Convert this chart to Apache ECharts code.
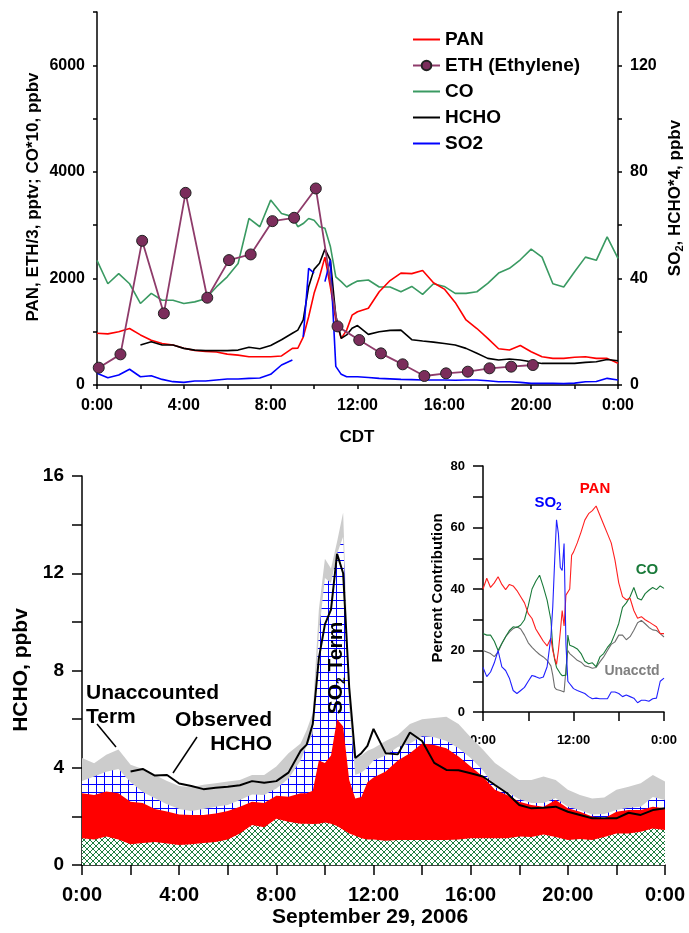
<!DOCTYPE html>
<html><head><meta charset="utf-8">
<script src="https://cdn.jsdelivr.net/npm/echarts@6/dist/echarts.min.js"></script>
<style>html,body{margin:0;padding:0;background:#fff}#c{width:689px;height:933px}</style>
</head><body><div id="c"></div>
<script>
// time grid (hours, CDT)
const hours = [0,0.5,1,1.5,2,2.5,3,3.5,4,4.5,5,5.5,6,6.5,7,7.5,8,8.5,9,
  9.25,9.5,9.75,10,10.25,10.5,10.75,11,11.25,11.5,11.75,12,
  12.5,13,13.5,14,14.5,15,15.5,16,16.5,17,17.5,18,18.5,19,19.5,20,20.5,21,21.5,22,22.5,23,23.5,24];

// ---- top panel (left axis: pptv / CO*10 ppbv ; right axis: ppbv) ----
const panTop = [970,960,1000,1060,940,840,780,750,690,650,630,620,580,560,530,530,530,545,688,
  690,900,1280,1720,2030,2400,1840,1220,875,1030,1310,1375,
  1440,1750,1960,2100,2090,2150,1920,1800,1550,1220,1060,875,680,656,740,625,530,500,500,520,530,500,500,410];
const coTop = [2340,1900,2090,1900,1530,1720,1590,1590,1530,1560,1620,1840,2030,2280,3125,2970,3470,3220,3160,
  2970,3030,3125,3090,2970,2940,2600,2030,1940,1840,1900,1950,
  1970,1840,1840,1750,1850,1700,1900,1850,1720,1720,1750,1906,2100,2190,2350,2550,2400,1900,1840,2125,2400,2340,2780,2375];
const hcho4Top = [null,null,null,null,15,16.2,15,15,13.75,13.1,12.9,12.9,12.9,13.1,14.2,13.6,14.8,17,19.4,
  20.6,24.4,36.9,43.4,45.7,51,46.9,26,17.5,18.8,21.3,22.3,
  19,20,20.5,20.6,17,16.5,16.1,15.6,15,13.75,11.9,10,9.4,9.75,9.4,8.75,8.1,8.1,8.1,8.1,8.5,8.75,9.6,9.1];
const so2Top = [4.4,2.75,3.75,5.9,3.1,3.5,2.1,1.25,1.0,1.5,1.5,1.9,2.25,2.25,2.5,2.6,4,7.5,9.4,
  null,18,43.8,42,null,38.8,46.9,7,4,3.1,3.1,3.1,
  2.8,2.5,2.3,2.1,2.0,1.9,1.9,1.9,1.8,1.9,1.9,1.6,1.2,1.2,1.0,0.6,0.6,0.6,0.5,0.7,1.2,1.3,2.5,1.9];
const ethHours = [0.08,1.08,2.08,3.08,4.08,5.08,6.08,7.08,8.08,9.08,10.08,11.08,12.08,13.08,14.08,15.08,16.08,17.08,18.08,19.08,20.08];
const ethTop = [325,575,2706,1344,3606,1638,2344,2450,3075,3138,3688,1100,844,594,388,169,219,250,313,344,375];

// ---- bottom panel: HCHO source terms (ppbv) ----
const coTerm = [1.1,1.05,1.17,1.05,0.85,0.9,0.95,0.88,0.82,0.85,0.9,0.95,1.05,1.3,1.65,1.55,1.9,1.78,1.7,
  1.7,1.69,1.7,1.75,1.7,1.6,1.45,1.3,1.2,1.1,1.05,1.05,
  1.0,1.03,1.03,1.03,1.03,1.03,1.05,1.1,1.1,1.1,1.1,1.17,1.15,1.25,1.15,1.03,1.07,1.03,1.15,1.3,1.3,1.37,1.5,1.44];
const panTerm = [1.85,1.83,1.85,1.9,1.75,1.65,1.35,1.32,1.26,1.21,1.16,1.17,1.17,1.1,0.95,1.0,0.95,1.03,1.25,
  1.25,1.36,2.6,2.45,2.8,4.4,4.25,2.2,1.54,1.7,2.35,2.55,
  2.85,3.27,3.57,3.97,3.91,3.77,3.41,2.95,2.54,1.99,1.78,1.43,1.32,1.15,1.52,1.3,1.12,0.96,0.77,0.89,0.96,0.89,0.9,0.89];
const so2Term = [0.5,0.76,0.82,1.0,0.8,0.45,0.45,0.3,0.22,0.16,0.24,0.28,0.25,0.27,0.3,0.33,0.3,0.74,1.35,
  1.95,2.35,5.2,7.6,7.1,6.8,7.8,3.0,0.96,1.0,0.6,0.7,
  0.65,0.55,0.4,0.3,0.31,0.3,0.34,0.35,0.26,0.11,0.12,0.1,0.08,0.15,0.08,0.07,0.06,0.09,0.18,0.07,0.09,0.14,0.4,0.34];
const unTerm = [0.95,0.54,0.69,0.8,0.72,0.95,0.95,0.95,0.95,0.98,1.0,0.96,0.96,0.83,0.8,0.82,0.9,1.05,0.7,
  0.65,0.85,1.0,0.8,0.6,0.5,1.0,0.5,0.7,0.7,0.7,0.5,
  0.6,0.5,0.8,0.7,0.8,1.0,1.0,0.85,0.85,1.0,0.85,0.8,0.95,1.09,0.75,0.69,0.63,0.66,0.68,0.83,0.87,0.96,0.9,0.76];
const hchoObs = [null,null,null,null,3.85,3.95,3.68,3.7,3.35,3.25,3.12,3.18,3.22,3.28,3.45,3.38,3.45,3.8,4.7,
  4.95,5.8,8.5,9.9,10.5,12.8,12.0,7.3,4.4,4.6,4.9,5.6,
  4.6,4.55,5.45,5.1,4.2,3.91,3.9,3.77,3.64,3.29,2.95,2.47,2.33,2.35,2.4,2.19,2.06,1.92,1.92,1.92,2.15,2.06,2.26,2.33];

// ---- inset: percent contribution ----
const panPct = [40,43.5,40.5,42,44,41.5,39.8,41.5,41,39.5,37.5,35.5,32,30.4,27,25,23,21.5,24,
  20,17.5,15.5,20,26,33,28,38,38.5,40,51,52,
  55,58.5,62.4,64.5,65.5,67,64,61,58,55,49.4,42,37.5,36.5,37,33,30.5,31,30,29.3,28.5,27.7,25.5,25.5];
const coPct = [25.5,25,25,23,20,22.3,24.5,26.5,27.7,27.5,28.3,30,34.5,40,42.5,44.5,40.7,36.4,30,
  21.2,17,14.5,13.5,12.5,11.8,11.2,12,25,21.7,21.5,21.2,
  20.5,19,16.5,15.7,16,14.7,17.9,19,21,22.5,25.5,28.8,34,35.5,37.5,40.5,37,36.4,38.5,39.6,40.5,39.8,41,40.2];
const unPct = [20,19.5,19,18,19.5,22.3,24.5,26,27.1,27.7,27,25,22.5,21,19.8,18.7,17.9,16.8,15,
  12,8,7.3,7,7,6.8,6.5,14,20,19,18.5,17.9,
  16.8,16.2,15,14.7,14.2,14.5,16.3,17.9,20,22,22.8,25,25,23.5,24.5,26.6,29,29.8,28.7,27.5,26.7,26.5,25.5,24.4];
const so2Pct = [14.5,11.5,13,16,20,14.7,13.5,11,7,6,7,8,10,11.9,11.5,11,11.4,14.7,24.4,
  34.2,49,62.5,58,47,46,54.8,22,10,9.2,8.4,7.6,
  7,6.5,6,5,4.3,4.5,4.3,4.3,4.3,6.5,6.5,6,5,5.5,5,4.5,3,3.8,3.8,3.5,4.3,4.5,10,11];

const F = '"Liberation Sans", Arial, Helvetica, sans-serif';

function pairs(xs, ys) { return xs.map((x, i) => [x, ys[i] == null ? '-' : ys[i]]); }
function cumul(...arrs) { return hours.map((h, i) => arrs.reduce((s, a) => s + a[i], 0)); }
function pattern(w, h, draw) {
  const c = document.createElement('canvas'); c.width = w; c.height = h;
  const g = c.getContext('2d'); g.fillStyle = '#fff'; g.fillRect(0, 0, w, h); draw(g);
  return { image: c, repeat: 'repeat' };
}
const gridPat = pattern(8, 8, g => { g.strokeStyle = '#0000ff'; g.lineWidth = 1; g.beginPath();
  g.moveTo(0, 0.5); g.lineTo(8, 0.5); g.moveTo(0.5, 0); g.lineTo(0.5, 8); g.stroke(); });
const hatchPat = pattern(6, 6, g => { g.strokeStyle = '#1f7d3f'; g.lineWidth = 1; g.beginPath();
  g.moveTo(-1, -1); g.lineTo(7, 7); g.moveTo(7, -1); g.lineTo(-1, 7); g.stroke(); });

const timeFmt = v => (v % 24) + ':00';
function xAxis(gi, interval, every, fs, margin, tick) {
  return { gridIndex: gi, type: 'value', min: 0, max: 24, interval: interval,
    axisLine: { onZero: false, lineStyle: { color: '#000', width: 1.5 } },
    axisTick: { length: tick, lineStyle: { color: '#000', width: 1.5 } },
    axisLabel: { formatter: v => v % every === 0 ? timeFmt(v) : '', color: '#000', fontSize: fs, fontWeight: 'bold', fontFamily: F, margin: margin },
    splitLine: { show: false } };
}
function yAxis(gi, max, interval, every, fs, margin, tick, pos) {
  return { gridIndex: gi, type: 'value', min: 0, max: max, interval: interval, position: pos || 'left',
    axisLine: { show: true, lineStyle: { color: '#000', width: 1.5 } },
    axisTick: { show: true, length: tick, lineStyle: { color: '#000', width: 1.5 } },
    axisLabel: { formatter: v => v % every === 0 ? String(v) : '', color: '#000', fontSize: fs, fontWeight: 'bold', fontFamily: F, margin: margin },
    splitLine: { show: false } };
}
function line(name, xi, yi, data, color, width, extra) {
  return Object.assign({ name: name, type: 'line', xAxisIndex: xi, yAxisIndex: yi, data: data, symbol: 'none',
    lineStyle: { color: color, width: width }, itemStyle: { color: color }, connectNulls: false, silent: true }, extra || {});
}
function area(name, data, fill, z) {
  return { name: name, type: 'line', xAxisIndex: 1, yAxisIndex: 2, data: data, symbol: 'none', silent: true, z: z,
    lineStyle: { width: 0, opacity: 0 }, areaStyle: { color: fill, opacity: 1 }, itemStyle: { color: '#ccc' } };
}

const topAll = cumul(coTerm, panTerm, so2Term, unTerm);
const topSO2 = cumul(coTerm, panTerm, so2Term);
const topPAN = cumul(coTerm, panTerm);
const topCO = cumul(coTerm);

const T = (text, x, y, size, opts) => ({ type: 'text', x: x, y: y, rotation: (opts && opts.rot) || 0,
  style: Object.assign({ text: text, font: 'bold ' + size + 'px ' + F, fill: (opts && opts.color) || '#000',
    align: (opts && opts.align) || 'center', verticalAlign: 'middle' }, (opts && opts.style) || {}) });
const sub = (size) => ({ s: { fontSize: size, fontWeight: 'bold', fontFamily: F, verticalAlign: 'bottom', lineHeight: size + 2 } });
const lineIcon = 'path://M0,0 L27,0 L27,2 L0,2 Z';

const option = {
  animation: false,
  backgroundColor: '#fff',
  grid: [
    { left: 97, top: 12, width: 521, height: 373 },
    { left: 82, top: 476, width: 583, height: 389 },
    { left: 483, top: 466, width: 181, height: 246 }
  ],
  xAxis: [ xAxis(0, 2, 4, 16, 13, 4), xAxis(1, 2, 4, 20, 20, 10), xAxis(2, 6, 12, 13, 22, 9) ],
  yAxis: [
    yAxis(0, 7000, 1000, 2000, 16, 12, 4),
    yAxis(0, 140, 20, 40, 16, 12, 4, 'right'),
    yAxis(1, 16, 2, 4, 19, 18, 10),
    yAxis(2, 80, 10, 20, 13, 18, 10)
  ],
  legend: { data: [
      { name: 'PAN', icon: lineIcon },
      { name: 'ETH (Ethylene)' },
      { name: 'CO', icon: lineIcon },
      { name: 'HCHO', icon: lineIcon },
      { name: 'SO2', icon: lineIcon } ],
    orient: 'vertical', left: 412, top: 30,
    itemWidth: 27, itemHeight: 12, itemGap: 7, padding: 0, selectedMode: false,
    textStyle: { fontSize: 19, fontWeight: 'bold', color: '#000', fontFamily: F } },
  series: [
    line('CO', 0, 0, pairs(hours, coTop), '#3a9a62', 1.6),
    line('PAN', 0, 0, pairs(hours, panTop), '#ff0000', 1.6),
    line('HCHO', 0, 1, pairs(hours, hcho4Top), '#000000', 1.6),
    line('SO2', 0, 1, pairs(hours, so2Top), '#0000ff', 1.6),
    line('ETH (Ethylene)', 0, 0, pairs(ethHours, ethTop), '#8e3b6a', 1.8,
      { symbol: 'circle', symbolSize: 11, itemStyle: { color: '#7b2d5b', borderColor: '#222', borderWidth: 1 } }),

    area('Unaccounted Term', pairs(hours, topAll), '#cccccc', 2),
    area('SO2 Term', pairs(hours, topSO2), gridPat, 3),
    area('PAN Term', pairs(hours, topPAN), '#ff0000', 4),
    area('CO Term', pairs(hours, topCO), hatchPat, 5),
    line('Observed HCHO', 1, 2, pairs(hours, hchoObs), '#000000', 2, { z: 6 }),

    line('Unacctd %', 2, 3, pairs(hours, unPct), '#6e6e6e', 1.1, { z: 7 }),
    line('CO %', 2, 3, pairs(hours, coPct), '#1a7a3a', 1.1, { z: 7 }),
    line('PAN %', 2, 3, pairs(hours, panPct), '#ff2020', 1.1, { z: 7 }),
    line('SO2 %', 2, 3, pairs(hours, so2Pct), '#2020ff', 1.1, { z: 7 })
  ],
  graphic: [
    T('PAN, ETH/3, pptv; CO*10, ppbv', 33, 197, 17, { rot: Math.PI / 2 }),
    { type: 'text', x: 675, y: 198, rotation: Math.PI / 2,
      style: { text: '{m|SO}{s|2}{m|, HCHO*4, ppbv}', align: 'center', verticalAlign: 'middle',
        rich: Object.assign({ m: { fontSize: 17, fontWeight: 'bold', fontFamily: F, lineHeight: 20 } }, sub(11)) } },
    T('CDT', 357, 437, 17),
    T('HCHO, ppbv', 21, 670, 21, { rot: Math.PI / 2 }),
    T('September 29, 2006', 370, 917, 21),
    T('Unaccounted', 86, 693, 21, { align: 'left' }),
    T('Term', 86, 717, 21, { align: 'left' }),
    T('Observed', 272, 720, 21, { align: 'right' }),
    T('HCHO', 272, 744, 21, { align: 'right' }),
    { type: 'line', shape: { x1: 97, y1: 724, x2: 116, y2: 747 }, style: { stroke: '#000', lineWidth: 1.5 } },
    { type: 'line', shape: { x1: 197, y1: 737, x2: 173, y2: 773 }, style: { stroke: '#000', lineWidth: 1.5 } },
    T('PAN Term', 440, 811, 21),
    T('CO Term', 302, 848, 21),
    { type: 'text', x: 336, y: 668, rotation: Math.PI / 2, z: 100,
      style: { text: '{m|SO}{s|2}{m| Term}', align: 'center', verticalAlign: 'middle',
        rich: Object.assign({ m: { fontSize: 21, fontWeight: 'bold', fontFamily: F, lineHeight: 24 } }, sub(12)) } },
    T('Percent Contribution', 438, 588, 15, { rot: Math.PI / 2 }),
    T('PAN', 595, 489, 15, { color: '#ff0000' }),
    { type: 'text', x: 548, y: 503,
      style: { text: '{m|SO}{s|2}', align: 'center', verticalAlign: 'middle', fill: '#0000ff',
        rich: { m: { fontSize: 15, fontWeight: 'bold', fontFamily: F, lineHeight: 18, color: '#0000ff' },
                s: { fontSize: 10, fontWeight: 'bold', fontFamily: F, verticalAlign: 'bottom', lineHeight: 12, color: '#0000ff' } } } },
    T('CO', 647, 570, 15, { color: '#1a7a3a' }),
    T('Unacctd', 632, 671, 14, { color: '#808080' })
  ]
};
const chart = echarts.init(document.getElementById('c'), null, { renderer: 'canvas' });
chart.setOption(option);
</script>
</body></html>
